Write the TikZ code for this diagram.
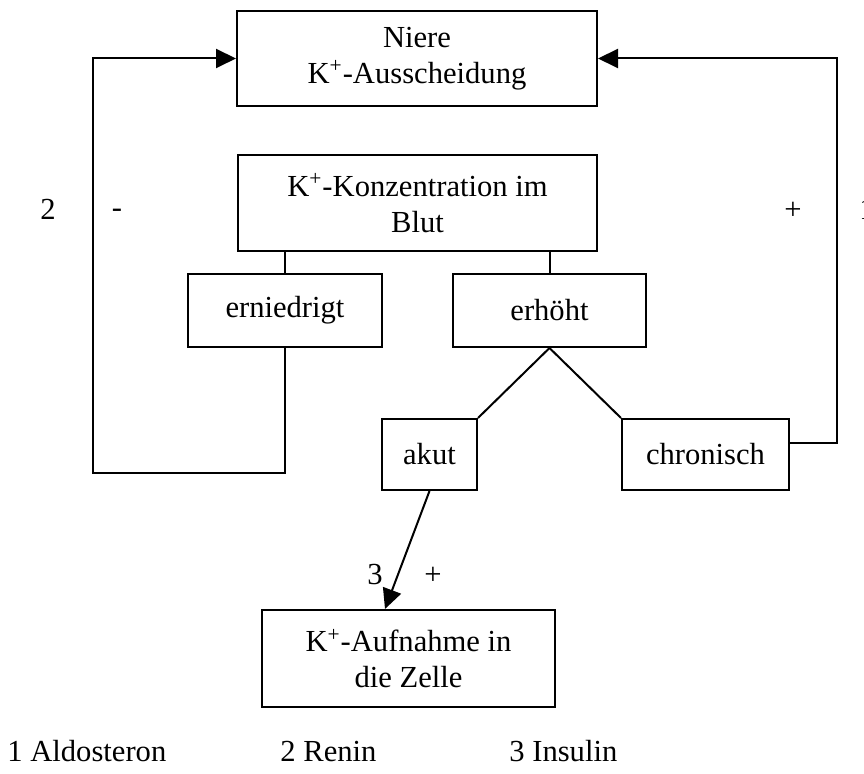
\documentclass[tikz,border=0pt]{standalone}
\usepackage{fontspec}
\setmainfont{Liberation Serif}
\usepackage{tikz}
\usetikzlibrary{arrows.meta}
\tikzstyle{box}   = [rectangle, draw=black, line width=1pt, inner sep=0pt,
                     text centered, align=center]
\tikzstyle{tag}   = [inner sep=0pt, anchor=base]
\tikzstyle{link}  = [line width=1pt]
\tikzstyle{arrow} = [-{Triangle[length=10pt, width=9.5pt]}, line width=1pt]

\begin{document}
\begin{tikzpicture}[x=0.5pt, y=-0.5pt, every node/.style={font=\fontsize{15.3}{18}\selectfont}]
    \useasboundingbox (0,0) rectangle (864,774);

    \node (niere) [box, minimum width=180pt, minimum height=47.5pt] at (417,58.5) {Niere\\K\textsuperscript{+}-Ausscheidung};
    \node (konz) [box, minimum width=179.5pt, minimum height=48pt] at (417.5,203) {K\textsuperscript{+}-Konzentration im\\Blut};
    \node (ern) [box, minimum width=97pt, minimum height=36.5pt] at (285,310.5) {erniedrigt};
    \node (erh) [box, minimum width=96.5pt, minimum height=36.5pt] at (549.5,310.5) {erhöht};
    \node (akut) [box, minimum width=47.5pt, minimum height=35.5pt] at (429.5,454.5) {akut};
    \node (chron) [box, minimum width=83.5pt, minimum height=35.5pt] at (705.5,454.5) {chronisch};
    \node (aufn) [box, minimum width=146.5pt, minimum height=48.5pt] at (408.5,658.5) {K\textsuperscript{+}-Aufnahme in\\die Zelle};

    \coordinate (lcorner) at (93,473);
    \coordinate (rcorner) at (837,443);

    \draw[link] (konz.south -| ern.north) -- (ern.north);
    \draw[link] (konz.south -| erh.north) -- (erh.north);
    \draw[link] (erh.south) -- (akut.north east);
    \draw[link] (erh.south) -- (chron.north west);
    \draw[arrow] (ern.south) |- (lcorner) |- (niere.west);
    \draw[arrow] (chron.east |- rcorner) -- (rcorner) |- (niere.east);
    \draw[arrow] (akut.south) -- ([xshift=-11.75pt]aufn.north);

    % Vorzeichen und Nummern
    \node (n2) [tag] at (48,220) {2};
    \node (m2) [tag] at (117,218) {-};
    \node (p1) [tag] at (793,220) {+};
    \node (n1) [tag] at (867,220) {1};
    \node (n3) [tag] at (375,585) {3};
    \node (p3) [tag] at (433,585) {+};

    % Legende
    \node (leg1) [tag, anchor=base west] at (7,762) {1 Aldosteron};
    \node (leg2) [tag, anchor=base west] at (280,762) {2 Renin};
    \node (leg3) [tag, anchor=base west] at (509,762) {3 Insulin};
\end{tikzpicture}
\end{document}
